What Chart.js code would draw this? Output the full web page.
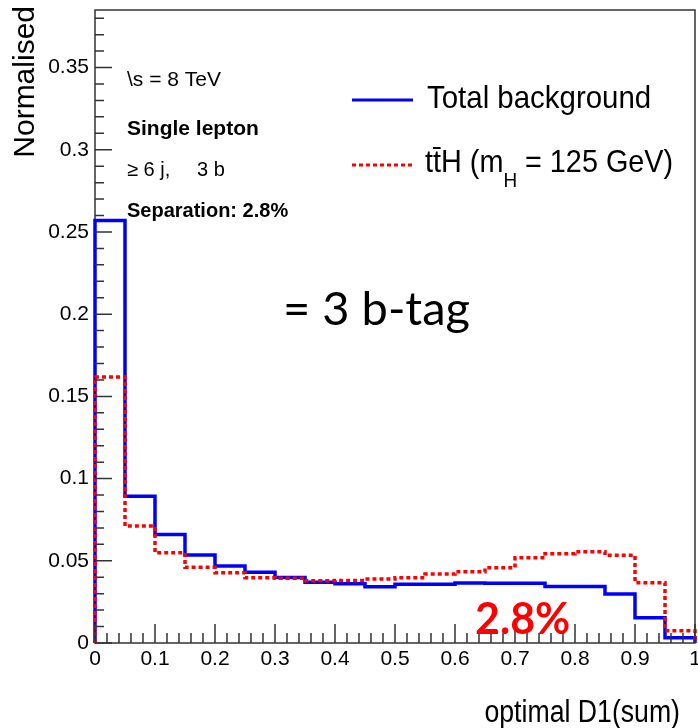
<!DOCTYPE html>
<html>
<head>
<meta charset="utf-8">
<script src="https://cdn.jsdelivr.net/npm/chart.js@4.4.1/dist/chart.umd.min.js"></script>
<style>
  body { margin: 0; background: #fff; }
  canvas { display: block; }
</style>
</head>
<body>
<canvas id="grafico" width="698" height="728"></canvas>
<script>
// lower edges of the 20 bins, last bin closes at xMax
const binLow = [0, 0.05, 0.1, 0.15, 0.2, 0.25, 0.3, 0.35, 0.4, 0.45,
                0.5, 0.55, 0.6, 0.65, 0.7, 0.75, 0.8, 0.85, 0.9, 0.95];
const xMax = 1;
const yMax = 0.385;

const totalBackground = [0.257, 0.0893, 0.066, 0.0535, 0.0468, 0.0431, 0.0398, 0.0369, 0.036, 0.0342,
                         0.0357, 0.0357, 0.0365, 0.0363, 0.0363, 0.0344, 0.0344, 0.0298, 0.0154, 0.0032];
const ttH = [0.1618, 0.0711, 0.0549, 0.046, 0.0427, 0.0397, 0.0394, 0.0379, 0.038, 0.039,
             0.0397, 0.0419, 0.0433, 0.0458, 0.0518, 0.0543, 0.0555, 0.0533, 0.0367, 0.0075];

const xTickValues = [0, 0.1, 0.2, 0.3, 0.4, 0.5, 0.6, 0.7, 0.8, 0.9, 1];
const yTickValues = [0, 0.05, 0.1, 0.15, 0.2, 0.25, 0.3, 0.35];

const FONT = "'Liberation Sans', Arial, Helvetica, sans-serif";
const NARROW = "'Liberation Sans Narrow', 'Liberation Sans', Arial, sans-serif";

function histPoints(vals) {
  const pts = [{ x: binLow[0], y: 0 }];
  vals.forEach((v, i) => pts.push({ x: binLow[i], y: v }));
  pts.push({ x: xMax, y: 0 });
  return pts;
}

function fmt(v) {
  return String(+v.toFixed(2));
}

// text squeezed a little horizontally, like the narrow Helvetica of the plot
function squeezed(ctx, text, x, y, sx) {
  ctx.save();
  ctx.translate(x, y);
  ctx.scale(sx, 1);
  ctx.fillText(text, 0, 0);
  const w = ctx.measureText(text).width * sx;
  ctx.restore();
  return w;
}

const decor = {
  id: 'decor',
  beforeDatasetsDraw(chart) {
    const { ctx, chartArea: a } = chart;
    ctx.save();
    ctx.strokeStyle = '#333';
    ctx.lineWidth = 1.5;
    ctx.strokeRect(a.left, a.top, a.right - a.left, a.bottom - a.top);
    ctx.restore();
  },
  afterDraw(chart) {
    const { ctx, chartArea: a, scales: { x, y } } = chart;
    ctx.save();
    // ticks drawn inwards, ROOT style
    ctx.strokeStyle = '#333';
    ctx.lineWidth = 1.5;
    ctx.beginPath();
    for (let i = 0; i <= 38; i++) {
      const py = y.getPixelForValue(i / 100);
      const len = i % 5 === 0 ? 17 : 9;
      ctx.moveTo(a.left, py);
      ctx.lineTo(a.left + len, py);
    }
    for (let i = 0; i <= 50; i++) {
      const px = x.getPixelForValue(i / 50);
      const len = i % 5 === 0 ? 19 : 10;
      ctx.moveTo(px, a.bottom);
      ctx.lineTo(px, a.bottom - len);
    }
    ctx.stroke();

    ctx.fillStyle = '#000';
    ctx.textBaseline = 'middle';

    // axis titles
    ctx.save();
    ctx.translate(34, 6);
    ctx.rotate(-Math.PI / 2);
    ctx.textAlign = 'right';
    ctx.textBaseline = 'alphabetic';
    ctx.font = `30px ${FONT}`;
    ctx.fillText('Normalised', 0, 0);
    ctx.restore();

    ctx.textAlign = 'right';
    ctx.font = `31px ${FONT}`;
    squeezed(ctx, 'optimal D1(sum)', 680, 713, 0.86);

    // labels in the top left corner
    ctx.textAlign = 'left';
    ctx.font = `21px ${FONT}`;
    ctx.fillText('\\s = 8 TeV', 127, 80);
    ctx.font = `bold 21px ${FONT}`;
    ctx.fillText('Single lepton', 127, 129);
    ctx.font = `20px ${FONT}`;
    ctx.fillText('\u2265 6 j,', 127, 170);
    ctx.fillText('3 b', 197, 170);
    ctx.font = `bold 20px ${FONT}`;
    ctx.fillText('Separation: 2.8%', 127, 211);

    // legend
    ctx.lineWidth = 3;
    ctx.strokeStyle = '#0000ff';
    ctx.beginPath();
    ctx.moveTo(352, 100);
    ctx.lineTo(413, 100);
    ctx.stroke();
    ctx.strokeStyle = '#ff0000';
    ctx.setLineDash([4, 3]);
    ctx.beginPath();
    ctx.moveTo(352, 165);
    ctx.lineTo(413, 165);
    ctx.stroke();
    ctx.setLineDash([]);

    ctx.font = `32px ${FONT}`;
    squeezed(ctx, 'Total background', 427, 99, 0.92);
    const sx = 0.9;
    let tx = 425;
    tx += squeezed(ctx, 't\u0074\u0304H (m', tx, 163, sx);
    ctx.font = `21px ${FONT}`;
    tx += squeezed(ctx, 'H', tx, 181, sx);
    ctx.font = `32px ${FONT}`;
    squeezed(ctx, ' = 125 GeV)', tx, 163, sx);

    // overlay annotations
    ctx.font = `47px Lato, 'Noto Sans', sans-serif`;
    ctx.fillText('= 3 b-tag', 283, 310);
    ctx.fillStyle = '#ff0000';
    ctx.font = `bold 43px Lato, 'Noto Sans', sans-serif`;
    ctx.fillText('2.8%', 475, 620);
    ctx.restore();
  }
};

new Chart(document.getElementById('grafico'), {
  type: 'line',
  data: {
    datasets: [
      {
        label: 'Total background',
        data: histPoints(totalBackground),
        borderColor: '#0000ff',
        borderWidth: 3.5,
        stepped: true,
        pointRadius: 0,
        fill: false,
        clip: 4,
        order: 1,
      },
      {
        label: 'ttH (mH = 125 GeV)',
        data: histPoints(ttH),
        borderColor: '#ff0000',
        borderWidth: 3.5,
        borderDash: [4, 3],
        stepped: true,
        pointRadius: 0,
        fill: false,
        clip: 4,
        order: 0,
      },
    ]
  },
  options: {
    responsive: false,
    animation: false,
    devicePixelRatio: 1,
    layout: { padding: { top: 10, right: 3, left: 0, bottom: 0 } },
    plugins: {
      legend: { display: false },
      tooltip: { enabled: false },
    },
    scales: {
      x: {
        type: 'linear',
        min: 0,
        max: xMax,
        grid: { display: false, drawTicks: false },
        border: { display: false },
        afterBuildTicks: s => { s.ticks = xTickValues.map(v => ({ value: v })); },
        afterFit: s => { s.height = 85; s.paddingLeft = 0; s.paddingRight = 0; },
        ticks: {
          callback: v => fmt(v),
          maxRotation: 0,
          autoSkip: false,
          padding: 4,
          color: '#000',
          font: { family: NARROW, size: 21 },
        },
      },
      y: {
        min: 0,
        max: yMax,
        grid: { display: false, drawTicks: false },
        border: { display: false },
        afterBuildTicks: s => { s.ticks = yTickValues.map(v => ({ value: v })); },
        afterFit: s => { s.width = 95; s.paddingTop = 0; s.paddingBottom = 0; },
        ticks: {
          callback: v => fmt(v),
          autoSkip: false,
          padding: 6,
          color: '#000',
          font: { family: NARROW, size: 21 },
        },
      },
    },
  },
  plugins: [decor],
});
</script>
</body>
</html>
